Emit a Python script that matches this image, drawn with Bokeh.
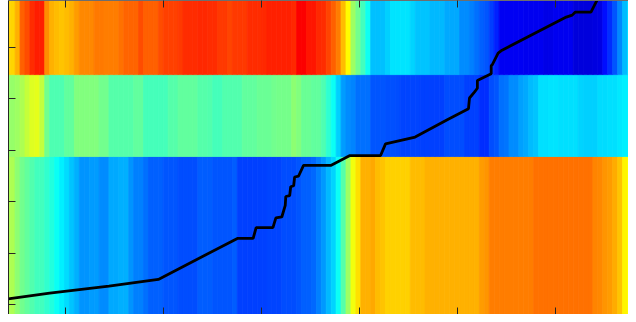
from bokeh.plotting import figure
from bokeh.models import (Range1d, FixedTicker, ColumnDataSource, LinearAxis,
                          CustomJSTickFormatter)
from bokeh.transform import linear_cmap
from bokeh.embed import file_html
from bokeh.resources import INLINE

# ---------------- data ----------------
# colour values (0..1 on a jet scale) of each image column, one list per band
top_band = [
    0.665, 0.665, 0.70, 0.78, 0.80, 0.83, 0.845, 0.845, 0.735, 0.70,
    0.6875, 0.68, 0.6875, 0.70, 0.72, 0.74, 0.74, 0.74, 0.755, 0.755,
    0.75, 0.75, 0.75, 0.765, 0.775, 0.775, 0.775, 0.80, 0.78, 0.78,
    0.78, 0.80, 0.81, 0.81, 0.81, 0.82, 0.83, 0.83, 0.83, 0.835,
    0.835, 0.83, 0.83, 0.82, 0.82, 0.805, 0.82, 0.82, 0.82, 0.83,
    0.83, 0.83, 0.835, 0.84, 0.84, 0.84, 0.84, 0.84, 0.835, 0.875,
    0.875, 0.855, 0.855, 0.835, 0.83, 0.805, 0.78, 0.75, 0.69, 0.625,
    0.53, 0.485, 0.44, 0.39, 0.3125, 0.3125, 0.3125, 0.33, 0.35, 0.35,
    0.35, 0.35, 0.335, 0.32, 0.32, 0.32, 0.305, 0.305, 0.305, 0.29,
    0.29, 0.29, 0.265, 0.265, 0.25, 0.235, 0.22, 0.21, 0.185, 0.16,
    0.115, 0.115, 0.115, 0.115, 0.115, 0.11, 0.11, 0.11, 0.11, 0.105,
    0.105, 0.11, 0.11, 0.11, 0.11, 0.09, 0.09, 0.09, 0.09, 0.095,
    0.10, 0.14, 0.17, 0.21, 0.26, 0.31, 0.34,
]
middle_band = [
    0.52, 0.52, 0.53, 0.545, 0.57, 0.59, 0.60, 0.565, 0.485, 0.45,
    0.45, 0.45, 0.47, 0.47, 0.50, 0.50, 0.50, 0.50, 0.50, 0.485,
    0.485, 0.46, 0.46, 0.46, 0.46, 0.46, 0.47, 0.47, 0.445, 0.445,
    0.445, 0.445, 0.445, 0.46, 0.46, 0.47, 0.47, 0.47, 0.47, 0.46,
    0.46, 0.455, 0.445, 0.445, 0.455, 0.455, 0.455, 0.455, 0.47, 0.47,
    0.47, 0.48, 0.48, 0.48, 0.485, 0.49, 0.49, 0.49, 0.515, 0.50,
    0.48, 0.48, 0.47, 0.47, 0.45, 0.42, 0.385, 0.33, 0.28, 0.265,
    0.255, 0.235, 0.235, 0.235, 0.21, 0.21, 0.21, 0.205, 0.205, 0.20,
    0.195, 0.195, 0.195, 0.195, 0.19, 0.19, 0.19, 0.19, 0.19, 0.20,
    0.20, 0.20, 0.20, 0.19, 0.19, 0.19, 0.17, 0.17, 0.20, 0.21,
    0.235, 0.24, 0.265, 0.265, 0.285, 0.29, 0.31, 0.32, 0.345, 0.345,
    0.35, 0.35, 0.345, 0.345, 0.345, 0.345, 0.335, 0.33, 0.33, 0.33,
    0.34, 0.34, 0.345, 0.345, 0.355, 0.36, 0.36,
]
bottom_band = [
    0.545, 0.545, 0.515, 0.485, 0.47, 0.455, 0.44, 0.44, 0.425, 0.41,
    0.385, 0.36, 0.34, 0.32, 0.30, 0.27, 0.27, 0.28, 0.28, 0.265,
    0.265, 0.29, 0.29, 0.30, 0.30, 0.27, 0.25, 0.25, 0.235, 0.22,
    0.22, 0.22, 0.21, 0.21, 0.21, 0.20, 0.20, 0.20, 0.20, 0.215,
    0.215, 0.215, 0.21, 0.21, 0.21, 0.21, 0.215, 0.19, 0.19, 0.19,
    0.19, 0.19, 0.19, 0.195, 0.195, 0.195, 0.20, 0.20, 0.20, 0.21,
    0.22, 0.22, 0.23, 0.25, 0.275, 0.305, 0.335, 0.385, 0.46, 0.53,
    0.61, 0.655, 0.70, 0.70, 0.71, 0.69, 0.68, 0.67, 0.67, 0.67,
    0.67, 0.67, 0.69, 0.69, 0.69, 0.70, 0.70, 0.70, 0.70, 0.70,
    0.70, 0.70, 0.70, 0.70, 0.70, 0.70, 0.72, 0.73, 0.75, 0.75,
    0.75, 0.75, 0.75, 0.75, 0.75, 0.75, 0.75, 0.765, 0.765, 0.765,
    0.765, 0.765, 0.765, 0.765, 0.765, 0.765, 0.765, 0.765, 0.765, 0.745,
    0.74, 0.73, 0.72, 0.705, 0.68, 0.635, 0.625,
]
# vertical extent of the three bands: bottom, middle, top
band_edges = [0, 162, 246, 322]

# black cumulative line
line_x = [1.1, 9.5, 21.5, 31.5, 47.5, 50.7, 51.3, 54.7, 55.3, 56.5,
          57.2, 57.3, 58.1, 58.3, 58.9, 59.1, 59.9, 60.9, 66.5, 70.3,
          76.5, 77.5, 83.5, 90.1, 94.3, 94.5, 95.5, 96.1, 96.1, 98.9,
          98.9, 99.1, 100.1, 100.3, 101.1, 114.1, 115.3, 115.9, 119.1, 120.1,
          120.5]
line_y = [16, 22, 29, 36, 78, 78, 89, 89, 99, 100,
          112, 121, 122, 131, 132, 141, 142, 153, 153, 163,
          163, 175, 182, 200, 211, 222, 228, 232, 240, 247,
          255, 256, 266, 268, 271, 305, 307, 310, 310, 320,
          324]

# tick positions (the chart shows no tick labels)
x_ticks = [12.76, 32.6, 52.44, 72.28, 92.12, 111.96]
y_ticks = [9.8, 62.6, 115.4, 168.2, 221.0, 273.8]


def jet_palette(n=256):
    cols = []
    for i in range(n):
        v = i / (n - 1)
        r = min(max(1.5 - abs(4 * v - 3), 0), 1)
        g = min(max(1.5 - abs(4 * v - 2), 0), 1)
        b = min(max(1.5 - abs(4 * v - 1), 0), 1)
        cols.append("#%02x%02x%02x" % (round(r * 255), round(g * 255), round(b * 255)))
    return cols


JET = jet_palette()

p = figure(width=628, height=314, output_backend="svg", toolbar_location=None,
           x_range=Range1d(1.16, 126.7), y_range=Range1d(0, 322),
           x_axis_type=None, y_axis_type=None,
           min_border=0, min_border_left=8, min_border_right=0,
           min_border_top=0, min_border_bottom=0)

cmap = linear_cmap("value", JET, 0, 1)
bands = [bottom_band, middle_band, top_band]
for i, vals in enumerate(bands):
    n = len(vals)
    src = ColumnDataSource(dict(
        left=[j + 1 - 0.5 for j in range(n)],
        right=[j + 1 + 0.5 for j in range(n)],
        bottom=[band_edges[i]] * n,
        top=[band_edges[i + 1]] * n,
        value=vals,
    ))
    p.quad(left="left", right="right", bottom="bottom", top="top", source=src,
           fill_color=cmap, line_color=cmap, line_width=0.8)

p.line(line_x, line_y, line_color="black", line_width=2.8)


def make_axis(ticks, line_color):
    return LinearAxis(ticker=FixedTicker(ticks=ticks),
                      formatter=CustomJSTickFormatter(code="return ''"),
                      major_label_text_color=None,
                      major_label_text_font_size="1px",
                      major_label_standoff=0,
                      major_tick_out=0, major_tick_in=7,
                      minor_tick_line_color=None,
                      axis_line_color=line_color,
                      major_tick_line_color="#262626",
                      major_tick_line_width=1)


p.add_layout(make_axis(y_ticks, "#262626"), "left")
p.add_layout(make_axis(x_ticks, None), "below")
p.add_layout(make_axis(x_ticks, "#6e6e6e"), "above")

p.grid.visible = False
p.outline_line_color = None
p.background_fill_color = "white"
p.border_fill_color = "white"

open("out.html", "w").write(file_html(p, INLINE))
